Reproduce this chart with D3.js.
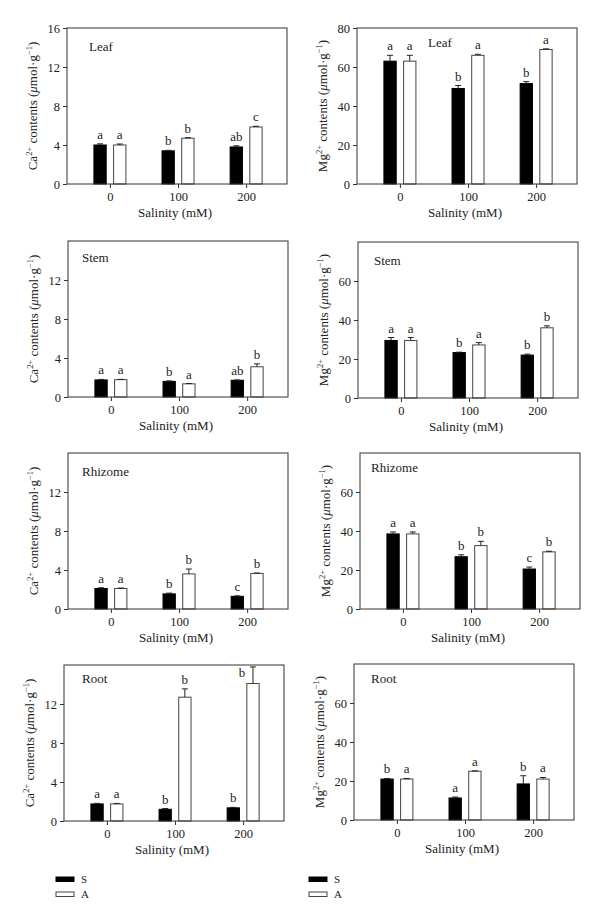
<!DOCTYPE html>
<html>
<head>
<meta charset="utf-8">
<script src="https://cdn.jsdelivr.net/npm/d3@7"></script>
<style>
  body { margin: 0; background: #fff; }
  svg, svg text { font-family: "Liberation Serif", "Times New Roman", "DejaVu Serif", serif; }
</style>
</head>
<body>
<svg id="chart" width="600" height="923"></svg>
<script>
const FONT = '"Liberation Serif", "Times New Roman", "DejaVu Serif", serif';
const salinity = [0, 100, 200];
const tissues = ['Leaf', 'Stem', 'Rhizome', 'Root'];
const groups = ['S', 'A'];

// Ca2+ (rows: Leaf, Stem, Rhizome, Root; cols: 0, 100, 200 mM)
const caS    = [[4.0, 3.4, 3.8], [1.75, 1.6, 1.72], [2.1, 1.55, 1.3], [1.75, 1.2, 1.35]];
const caSErr = [[0.12, 0.05, 0.12], [0.05, 0.05, 0.03], [0.08, 0.08, 0.05], [0.06, 0.08, 0.05]];
const caA    = [[4.0, 4.7, 5.85], [1.78, 1.35, 3.1], [2.1, 3.6, 3.65], [1.75, 12.7, 14.1]];
const caAErr = [[0.1, 0.05, 0.07], [0.03, 0.03, 0.3], [0.05, 0.5, 0.04], [0.05, 0.85, 1.7]];
const caSLetters = [['a', 'b', 'ab'], ['a', 'b', 'ab'], ['a', 'b', 'c'], ['a', 'b', 'b']];
const caALetters = [['a', 'b', 'c'], ['a', 'a', 'b'], ['a', 'b', 'b'], ['a', 'b', 'b']];

// Mg2+
const mgS    = [[63, 49, 51.5], [29.5, 23.3, 22], [38.5, 26.8, 20.5], [21, 11.3, 18.5]];
const mgSErr = [[3, 1.5, 1], [1.5, 0.2, 0.5], [1, 1, 1], [0.3, 0.5, 4.2]];
const mgA    = [[63, 66, 69], [29.5, 27.2, 36], [38.5, 32.5, 29.3], [21, 25, 21]];
const mgAErr = [[3, 0.5, 0.3], [1.5, 1.2, 1], [1, 2.2, 0.3], [0.3, 0.2, 0.8]];
const mgSLetters = [['a', 'b', 'b'], ['a', 'b', 'b'], ['a', 'b', 'c'], ['b', 'a', 'b']];
const mgALetters = [['a', 'a', 'a'], ['a', 'a', 'b'], ['a', 'b', 'b'], ['a', 'a', 'a']];

const caTicksTop = [0, 4, 8, 12, 16];
const caTicks = [0, 4, 8, 12];
const mgTicksTop = [0, 20, 40, 60, 80];
const mgTicks = [0, 20, 40, 60];

const W = 220, H = 156;
const svg = d3.select('#chart');

// panel frames, row by row
const layout = [
  { x: 67, y: 28, lx: 22, ly: 23 }, { x: 357, y: 28, lx: 71, ly: 19 },
  { x: 68, y: 241, lx: 14, ly: 21 }, { x: 358, y: 242, lx: 16, ly: 23 },
  { x: 68, y: 453, lx: 14, ly: 23 }, { x: 360, y: 453, lx: 11, ly: 19 },
  { x: 64, y: 665, lx: 18, ly: 18 }, { x: 354, y: 664, lx: 17, ly: 19 }
];

function drawPanel(pos, ion, t) {
  const isCa = ion === 'Ca';
  const sVals = isCa ? caS[t] : mgS[t];
  const sErr = isCa ? caSErr[t] : mgSErr[t];
  const aVals = isCa ? caA[t] : mgA[t];
  const aErr = isCa ? caAErr[t] : mgAErr[t];
  const sLet = isCa ? caSLetters[t] : mgSLetters[t];
  const aLet = isCa ? caALetters[t] : mgALetters[t];
  const ticks = isCa ? (t === 0 ? caTicksTop : caTicks) : (t === 0 ? mgTicksTop : mgTicks);

  const g = svg.append('g').attr('transform', `translate(${pos.x},${pos.y})`)
    .attr('font-family', FONT);

  const x = d3.scaleLinear().domain([-63, 260]).range([0, W]);
  const inner = d3.scaleBand().domain(groups).range([-16, 16]).paddingInner(0.375);
  const y = d3.scaleLinear().domain(isCa ? [0, 16] : [0, 80]).range([H, 0]);

  const rows = [];
  salinity.forEach((s, i) => {
    rows.push({ s, grp: 'S', v: sVals[i], e: sErr[i], l: sLet[i] });
    rows.push({ s, grp: 'A', v: aVals[i], e: aErr[i], l: aLet[i] });
  });

  const yAxis = d3.axisLeft(y).tickValues(ticks).tickSize(4).tickPadding(3).tickFormat(d3.format('d'));
  const ya = g.append('g').call(yAxis).attr('font-family', FONT);
  ya.select('.domain').remove();
  ya.selectAll('line').attr('stroke', '#333');
  ya.selectAll('text').attr('font-size', 12.5).attr('fill', '#222');

  const xAxis = d3.axisBottom(x).tickValues(salinity).tickSize(4).tickPadding(4);
  const xa = g.append('g').attr('transform', `translate(0,${H})`).call(xAxis).attr('font-family', FONT);
  xa.select('.domain').remove();
  xa.selectAll('line').attr('stroke', '#333');
  xa.selectAll('text').attr('font-size', 12.5).attr('fill', '#222');

  // bars
  g.selectAll('rect.bar').data(rows).enter().append('rect')
    .attr('class', 'bar')
    .attr('x', d => x(d.s) + inner(d.grp))
    .attr('width', inner.bandwidth())
    .attr('y', d => y(d.v))
    .attr('height', d => H - y(d.v))
    .attr('fill', d => d.grp === 'S' ? '#000' : '#fff')
    .attr('stroke', d => d.grp === 'S' ? '#000' : '#444')
    .attr('stroke-width', 1);

  // error bars (upper only)
  const cx = d => x(d.s) + inner(d.grp) + inner.bandwidth() / 2;
  g.selectAll('line.err').data(rows).enter().append('line')
    .attr('x1', cx).attr('x2', cx)
    .attr('y1', d => y(d.v)).attr('y2', d => y(d.v + d.e))
    .attr('stroke', '#222');
  g.selectAll('line.cap').data(rows).enter().append('line')
    .attr('x1', d => cx(d) - 3).attr('x2', d => cx(d) + 3)
    .attr('y1', d => y(d.v + d.e)).attr('y2', d => y(d.v + d.e))
    .attr('stroke', '#222');

  // significance letters; pushed beside the bar when there is no room above
  const tight = d => y(d.v + d.e) - 5 < 14;
  g.selectAll('text.sig').data(rows).enter().append('text')
    .attr('x', d => tight(d) ? cx(d) - 11 : cx(d))
    .attr('y', d => tight(d) ? 12 : y(d.v + d.e) - 5)
    .attr('text-anchor', 'middle')
    .attr('font-size', 13)
    .attr('fill', '#222')
    .text(d => d.l);

  g.append('rect').attr('width', W).attr('height', H)
    .attr('fill', 'none').attr('stroke', '#333').attr('stroke-width', 1);

  g.append('text').attr('x', pos.lx).attr('y', pos.ly)
    .attr('font-size', 13).attr('fill', '#222').text(tissues[t]);

  g.append('text').attr('x', W / 2 - 2).attr('y', H + 33)
    .attr('text-anchor', 'middle').attr('font-size', 13).attr('fill', '#222')
    .text('Salinity (mM)');

  const yl = g.append('text')
    .attr('transform', `translate(-30,${H / 2}) rotate(-90)`)
    .attr('text-anchor', 'middle').attr('font-size', 13).attr('fill', '#222');
  yl.append('tspan').text(isCa ? 'Ca' : 'Mg');
  yl.append('tspan').attr('dy', -5).attr('font-size', 8.5).text('2+');
  yl.append('tspan').attr('dy', 5).text(' contents (');
  yl.append('tspan').attr('font-style', 'italic').text('μ');
  yl.append('tspan').text('mol·g');
  yl.append('tspan').attr('dy', -5).attr('font-size', 8.5).text('−1');
  yl.append('tspan').attr('dy', 5).text(')');
}

tissues.forEach((tn, t) => {
  drawPanel(layout[t * 2], 'Ca', t);
  drawPanel(layout[t * 2 + 1], 'Mg', t);
});

// legends
[56, 309].forEach(lx => {
  const lg = svg.append('g').attr('transform', `translate(${lx},877)`).attr('font-family', FONT);
  groups.forEach((grp, i) => {
    lg.append('rect').attr('x', 0).attr('y', i * 15).attr('width', 18).attr('height', 4.5)
      .attr('fill', grp === 'S' ? '#000' : '#fff')
      .attr('stroke', grp === 'S' ? '#000' : '#444');
    lg.append('text').attr('x', 25).attr('y', i * 15 + 6)
      .attr('font-size', 11).attr('fill', '#222').text(grp);
  });
});
</script>
</body>
</html>
